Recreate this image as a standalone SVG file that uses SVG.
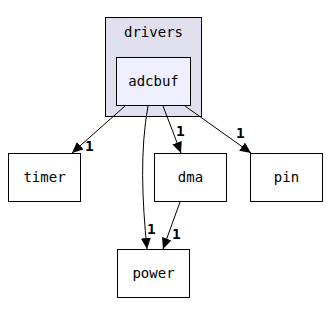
<svg xmlns="http://www.w3.org/2000/svg" width="330" height="315" viewBox="0 0 330 315">
  <style>
    .node rect { fill: #ffffff; stroke: #000000; stroke-width: 1; }
    .label { font-family: "DejaVu Sans Mono", "Liberation Mono", monospace; font-size: 14px; text-anchor: middle; fill: #000000; }
    .edge path { fill: none; stroke: #000000; stroke-width: 1; marker-end: url(#arrow); }
    .count { font-family: "DejaVu Sans Mono", "Liberation Mono", monospace; font-size: 14.5px; font-weight: bold; fill: #000000; }
  </style>
  <defs>
    <marker id="arrow" viewBox="0 0 11 10" refX="11" refY="5" markerWidth="11" markerHeight="10" markerUnits="userSpaceOnUse" orient="auto">
      <path d="M0,0 L11,5 L0,10 Z" fill="#000000"/>
    </marker>
  </defs>
  <rect width="330" height="315" fill="#ffffff"/>

  <g id="cluster-drivers">
    <rect x="105.5" y="17.5" width="96" height="99" fill="#dfdfed" stroke="#000000"/>
    <text class="label" x="153.5" y="37">drivers</text>
  </g>
  <g id="node-adcbuf" class="node">
    <rect x="116.5" y="57.5" width="74" height="48" style="fill:#efeffd"/>
    <text class="label" x="153.5" y="86">adcbuf</text>
  </g>
  <g id="node-timer" class="node">
    <rect x="8.5" y="153.5" width="72" height="48"/>
    <text class="label" x="44.5" y="182">timer</text>
  </g>
  <g id="node-dma" class="node">
    <rect x="154.5" y="153.5" width="72" height="48"/>
    <text class="label" x="190.5" y="182">dma</text>
  </g>
  <g id="node-pin" class="node">
    <rect x="250.5" y="153.5" width="72" height="48"/>
    <text class="label" x="286.5" y="182">pin</text>
  </g>
  <g id="node-power" class="node">
    <rect x="117.5" y="249.5" width="72" height="48"/>
    <text class="label" x="153.5" y="278">power</text>
  </g>

  <g id="edges" class="edge">
    <path d="M125,106 L72,153"/>
    <text class="count" x="85" y="151">1</text>
    <path d="M163,106 L181,153"/>
    <text class="count" x="176" y="136">1</text>
    <path d="M185,106 L251,153"/>
    <text class="count" x="236" y="138">1</text>
    <path d="M148,106 C140,150 142,200 147,249"/>
    <text class="count" x="147" y="234">1</text>
    <path d="M180,202 L163,249"/>
    <text class="count" x="172" y="239">1</text>
  </g>
</svg>
